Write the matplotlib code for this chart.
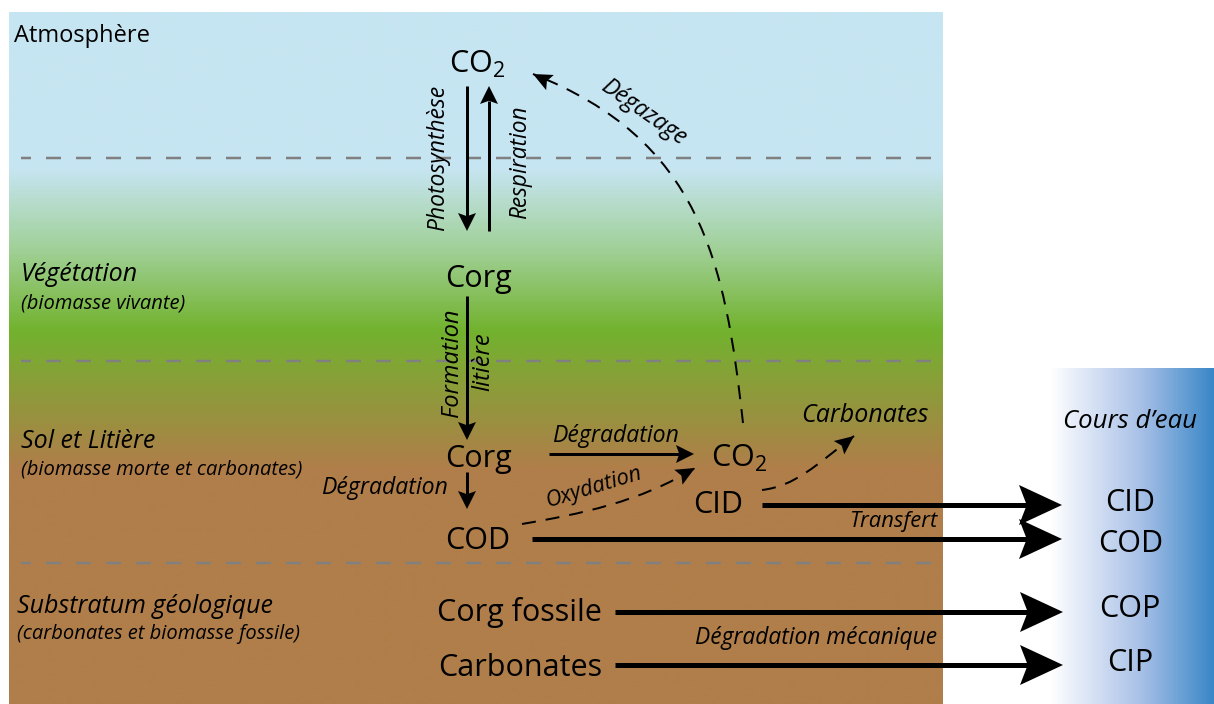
import numpy as np
import matplotlib
matplotlib.use("Agg")
import matplotlib.pyplot as plt
from matplotlib.colors import LinearSegmentedColormap
from matplotlib.patches import Polygon, PathPatch
from matplotlib.path import Path

plt.rcParams['font.family'] = ['Open Sans', 'DejaVu Sans']
plt.rcParams['mathtext.fontset'] = 'custom'
plt.rcParams['mathtext.rm'] = 'Open Sans'

W, H = 1214, 704

# --- layer bands (y in pixels, from top) ---
layer_names = ["Atmosphère", "Végétation", "Sol et Litière", "Substratum géologique"]
layer_subs = [None, "(biomasse vivante)", "(biomasse morte et carbonates)",
              "(carbonates et biomasse fossile)"]
layer_label_x = [14, 21, 21, 17]
layer_label_y = [42, 281, 448, 613]
layer_sub_y = [None, 309, 474, 639]
divider_y = [158, 361, 563]

# background gradient stops (pixel y, colour)
bg_stop_y = [12, 168, 250, 330, 470, 704]
bg_stop_c = ['#C6E5F2', '#C6E5F2', '#A0D096', '#72B22E', '#B07E4A', '#B07E4A']

# --- carbon pools (text, x, baseline y) ---
pool_text = ["CO$_2$", "Corg", "Corg", "COD", "CO$_2$", "CID",
             "Corg fossile", "Carbonates"]
pool_x = [449, 445, 445, 445, 711, 693, 437, 438]
pool_y = [73, 287, 467, 549, 467, 513, 621, 676]

river_text = ["CID", "COD", "COP", "CIP"]
river_x = [1130, 1131, 1130, 1130]
river_y = [511, 552, 617, 671]

# --- solid arrows: start and tip
thin_arrows = [
    (467, 86, 467, 231),    # photosynthese
    (489, 231, 489, 86),    # respiration
    (467, 296, 467, 440),   # formation litiere
    (467, 472, 467, 509),   # degradation -> COD
    (549, 454, 694, 454),   # degradation -> CO2
]
thick_arrows = [
    (762, 505, 1062, 505),  # CID -> riviere
    (532, 539, 1062, 539),  # COD -> riviere
    (615, 612, 1063, 612),  # Corg fossile -> COP
    (615, 665, 1063, 665),  # Carbonates -> CIP
]

# dashed curved arrows as cubic bezier control points
dashed_arrows = [
    [(743, 423), (725, 260), (700, 140), (533, 74)],   # degazage
    [(522, 524), (580, 514), (640, 502), (695, 468)],  # oxydation
    [(762, 490), (795, 486), (815, 466), (854, 436)],  # carbonates
]

# italic process labels: (text, x, y, rotation, size)
process_labels = [
    ("Photosynthèse", 438, 158, 90, 16.5),
    ("Respiration", 520, 162, 90, 16.3),
    ("Formation", 452, 363, 90, 17),
    ("litière", 483, 362, 90, 17),
    ("Dégradation", 384, 488, 0, 16.6),
    ("Dégradation", 615, 436, 0, 16.6),
    ("Oxydation", 594, 487, 17, 15.8),
    ("Dégazage", 643, 112, -35, 16.6),
    ("Carbonates", 865, 415, 0, 18),
    ("Transfert", 893, 521, 0, 15.8),
    ("Dégradation mécanique", 816, 638, 0, 16.4),
    ("Cours d’eau", 1130, 422, 0, 18.5),
]

PX = 72.0 / 100.0  # points per pixel at dpi 100

fig = plt.figure(figsize=(W / 100, H / 100), dpi=100)
ax = fig.add_axes([0, 0, 1, 1])
ax.set_xlim(0, W)
ax.set_ylim(H, 0)
ax.axis('off')

# background column
pos = [(y - bg_stop_y[0]) / (bg_stop_y[-1] - bg_stop_y[0]) for y in bg_stop_y]
bg_cmap = LinearSegmentedColormap.from_list('layers', list(zip(pos, bg_stop_c)))
grad = np.linspace(0, 1, 700).reshape(-1, 1)
ax.imshow(grad, cmap=bg_cmap, aspect='auto', extent=[9, 943, H, 12],
          interpolation='bilinear', zorder=0)

# river panel
river_cmap = LinearSegmentedColormap.from_list(
    'river', [(0, '#FFFFFF'), (0.55, '#A9C1E7'), (1, '#3A87C8')])
ax.imshow(np.linspace(0, 1, 400).reshape(1, -1), cmap=river_cmap, aspect='auto',
          extent=[1050, W, H, 368], interpolation='bilinear', zorder=0)

# layer dividers
for y in divider_y:
    ax.plot([21, 932], [y, y], color='#808080', lw=2.5 * PX,
            linestyle=(2.0, (6.0, 6.0)), zorder=1)

# layer labels
for name, sub, x, y, ys in zip(layer_names, layer_subs, layer_label_x,
                               layer_label_y, layer_sub_y):
    if sub is None:
        ax.text(x, y, name, fontsize=17, ha='left', va='baseline')
    else:
        ax.text(x, y, name, fontsize=18, style='italic', ha='left', va='baseline')
        ax.text(x, ys, sub, fontsize=14.5, style='italic', ha='left', va='baseline')

for t, x, y in zip(pool_text, pool_x, pool_y):
    ax.text(x, y, t, fontsize=22, ha='left', va='baseline', zorder=5)

for t, x, y in zip(river_text, river_x, river_y):
    ax.text(x, y, t, fontsize=22, ha='center', va='baseline', zorder=5)


def head(back, tip, length, width):
    """notched triangular arrow head ending at tip"""
    bx, by = back
    tx, ty = tip
    d = np.hypot(tx - bx, ty - by)
    ux, uy = (tx - bx) / d, (ty - by) / d
    nx, ny = -uy, ux
    bcx, bcy = tx - ux * length, ty - uy * length
    notch = (bcx + ux * length * 0.18, bcy + uy * length * 0.18)
    pts = [(tx, ty), (bcx + nx * width / 2, bcy + ny * width / 2), notch,
           (bcx - nx * width / 2, bcy - ny * width / 2)]
    ax.add_patch(Polygon(pts, closed=True, facecolor='black', edgecolor='none',
                         zorder=6))
    return notch


def arrow(x0, y0, x1, y1, lw, length, width):
    nx_, ny_ = head((x0, y0), (x1, y1), length, width)
    ax.plot([x0, nx_], [y0, ny_], color='black', lw=lw * PX,
            solid_capstyle='butt', zorder=5)


def bezier(pts, t):
    p = np.asarray(pts, float)
    return ((1 - t) ** 3 * p[0] + 3 * t * (1 - t) ** 2 * p[1]
            + 3 * t ** 2 * (1 - t) * p[2] + t ** 3 * p[3])


for x0, y0, x1, y1 in thin_arrows:
    arrow(x0, y0, x1, y1, 3, 18, 18)

for x0, y0, x1, y1 in thick_arrows:
    arrow(x0, y0, x1, y1, 5, 43, 40)

for pts in dashed_arrows:
    path = Path(pts, [Path.MOVETO, Path.CURVE4, Path.CURVE4, Path.CURVE4])
    ax.add_patch(PathPatch(path, facecolor='none', edgecolor='black',
                           lw=2 * PX, linestyle=(0, (7, 5)), zorder=5))
    head(bezier(pts, 0.85), pts[3], 19, 17)

for t, x, y, rot, size in process_labels:
    ax.text(x, y, t, fontsize=size, style='italic', ha='center', va='center',
            rotation=rot, rotation_mode='anchor', zorder=5)

fig.savefig('out.png', dpi=100)
